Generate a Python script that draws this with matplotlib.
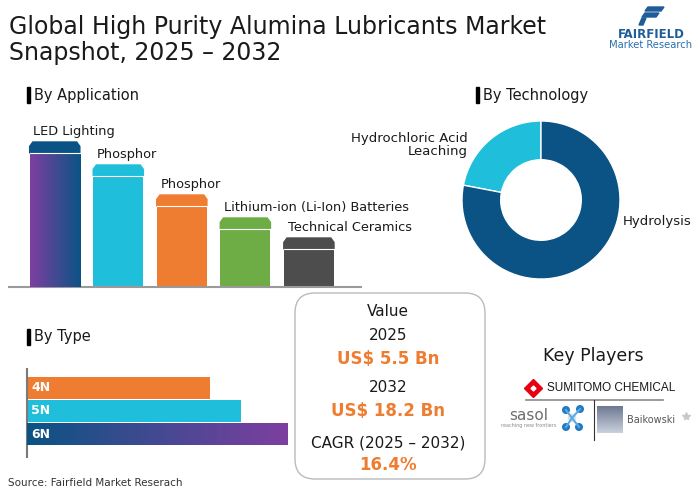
import matplotlib.pyplot as plt
import numpy as np
from matplotlib.patches import Polygon, Rectangle, FancyBboxPatch, Circle
from matplotlib.colors import LinearSegmentedColormap

W, H = 700, 491

# --- data ---
app_labels = ["LED Lighting", "Phosphor", "Phosphor",
              "Lithium-ion (Li-Ion) Batteries", "Technical Ceramics"]
app_values = [145, 122, 92, 69, 49]
app_colors = ["#0B5384", "#1FBEDA", "#EE7D31", "#6EAD45", "#4D4D4D"]

tech_labels = ["Hydrochloric Acid\nLeaching", "Hydrolysis"]
tech_values = [22, 78]
tech_colors = ["#1FBEDA", "#0B5384"]

type_labels = ["4N", "5N", "6N"]
type_values = [183, 214, 261]
type_colors = ["#EE7D31", "#1FBEDA", "#0B5384"]

value_text = ["Value", "2025", "US$ 5.5 Bn", "2032", "US$ 18.2 Bn",
              "CAGR (2025 – 2032)", "16.4%"]

BLACK = "#1A1A1A"
ORANGE = "#EE7D31"
PURPLE = "#7D3FA0"
DBLUE = "#0B5384"

fig = plt.figure(figsize=(W / 100, H / 100), dpi=100)


def px_axes(x0, y0, x1, y1):
    ax = fig.add_axes([x0 / W, 1 - y1 / H, (x1 - x0) / W, (y1 - y0) / H])
    ax.set_facecolor("none")
    return ax


# background canvas in pixel coords
bg = px_axes(0, 0, W, H)
bg.set_xlim(0, W)
bg.set_ylim(H, 0)
bg.axis("off")

# title
bg.text(9, 27, "Global High Purity Alumina Lubricants Market", fontsize=17,
        color=BLACK, va="center", ha="left")
bg.text(9, 53, "Snapshot, 2025 – 2032", fontsize=17, color=BLACK,
        va="center", ha="left")

# fairfield logo
for pts in ([(648, 7), (664, 7), (661, 11), (645, 11)],
            [(645, 13), (659, 13), (656, 17), (642, 17)],
            [(642, 18), (646, 18), (643, 25), (639, 25)]):
    bg.add_patch(Polygon(pts, closed=True, color="#1F5C99"))
bg.text(651, 34, "FAIRFIELD", fontsize=8.5, fontweight="bold", color="#1F5C99",
        ha="center", va="center")
bg.text(651, 45, "Market Research", fontsize=7.2, color="#2A6FB0",
        ha="center", va="center")


def header(x, y, txt):
    bg.add_patch(Rectangle((x, y - 8), 3, 16, color="black"))
    bg.text(x + 7, y, txt, fontsize=10.5, color=BLACK, va="center", ha="left")


header(27, 95, "By Application")
header(476, 95, "By Technology")
header(27, 337, "By Type")

# --- By Application bars ---
ax1 = px_axes(9, 87, 361, 287)
ax1.axis("off")
bw = 0.79
cap = 11
grad_cmap = LinearSegmentedColormap.from_list("g", [PURPLE, DBLUE])
xs = np.arange(len(app_values))
bars = ax1.bar(xs, [v - cap for v in app_values], width=bw, color=app_colors,
               zorder=2)
for i, (v, c, lab) in enumerate(zip(app_values, app_colors, app_labels)):
    x0, x1 = i - bw / 2, i + bw / 2
    body = v - cap
    if i == 0:
        im = ax1.imshow(np.linspace(0, 1, 100).reshape(1, -1), cmap=grad_cmap,
                        extent=(x0, x1, 0, body), aspect="auto", zorder=3)
        im.set_clip_path(bars[i])
    ax1.add_patch(Polygon([(x0, body), (x0, body + cap * 0.6),
                           (x0 + 0.05, v), (x1 - 0.05, v),
                           (x1, body + cap * 0.6), (x1, body)],
                          closed=True, color=c, zorder=3))
    ax1.plot([x0, x1], [body, body], color="white", lw=0.8, zorder=4)
    ax1.text(x0 + 0.06, v + 10, lab, fontsize=9.3, color=BLACK,
             ha="left", va="center")
ax1.axhline(0, color="#9A9A9A", lw=1.5, clip_on=False)
ax1.set_xlim(-0.72, 4.82)
ax1.set_ylim(0, 200)

# --- By Technology donut ---
ax2 = px_axes(441, 100, 641, 300)
ax2.pie(tech_values, colors=tech_colors, startangle=90, radius=1,
        wedgeprops=dict(width=0.49, edgecolor="white", linewidth=1))
ax2.set_xlim(-100 / 79, 100 / 79)
ax2.set_ylim(-100 / 79, 100 / 79)
bg.text(468, 145, tech_labels[0], fontsize=9.5, color=BLACK, ha="right",
        va="center", linespacing=0.95)
bg.text(623, 222, tech_labels[1], fontsize=9.5, color=BLACK, ha="left",
        va="center")

# --- By Type bars ---
ax3 = px_axes(27, 369, 300, 457)
hb = ax3.barh(np.arange(3), type_values, height=0.95, color=type_colors,
              zorder=2)
grad2 = LinearSegmentedColormap.from_list("g2", [DBLUE, PURPLE])
im2 = ax3.imshow(np.linspace(0, 1, 100).reshape(1, -1), cmap=grad2,
                 extent=(0, type_values[2], 2 + 0.475, 2 - 0.475),
                 aspect="auto", zorder=3)
im2.set_clip_path(hb[2])
for i, lab in enumerate(type_labels):
    ax3.text(4, i, lab, color="white", fontsize=9, fontweight="bold",
             va="center", ha="left", zorder=5)
ax3.set_xlim(0, 273)
ax3.set_ylim(1 + 46 / 23.25, 1 - 42 / 23.25)
for s in ["top", "right", "bottom"]:
    ax3.spines[s].set_visible(False)
ax3.spines["left"].set_color("#7A7A7A")
ax3.spines["left"].set_linewidth(1.5)
ax3.set_xticks([])
ax3.set_yticks([])

bg.text(8, 483, "Source: Fairfield Market Reserach", fontsize=7.5,
        color="#333333", va="center", ha="left")

# --- value box ---
bg.add_patch(FancyBboxPatch((295, 293), 190, 186,
                            boxstyle="round,pad=0,rounding_size=20",
                            fc="white", ec="#BBBBBB", lw=1))
ys = [312, 336, 359, 387, 411, 443, 465]
for t, y in zip(value_text, ys):
    if t.startswith("US$") or t.endswith("%"):
        bg.text(388, y, t, fontsize=12, fontweight="bold", color=ORANGE,
                ha="center", va="center")
    else:
        bg.text(388, y, t, fontsize=11, color=BLACK, ha="center", va="center")

# --- key players ---
bg.text(593, 356, "Key Players", fontsize=12.5, color=BLACK, ha="center",
        va="center")
bg.plot([533], [388], marker="D", ms=9, color="#E60012")
bg.plot([533], [388], marker="D", ms=2.5, color="white")
bg.text(547, 388, "SUMITOMO CHEMICAL", fontsize=8.5, family="Liberation Sans",
        color=BLACK, ha="left", va="center")
bg.plot([526, 663], [400, 400], color="#8A8A8A", lw=1.2)
bg.plot([594, 594], [400, 440], color="#333333", lw=0.8)
bg.text(529, 416, "sasol", fontsize=11, color="#6D6E71", ha="center",
        va="center")
bg.text(529, 425, "reaching new frontiers", fontsize=3.5, color="#888888",
        ha="center", va="center")
mol = [(566, 410), (580, 409), (566, 427), (579, 427), (572, 418)]
for p in mol[:4]:
    bg.plot([mol[4][0], p[0]], [mol[4][1], p[1]], color="#5FA8E0", lw=1.5)
for p in mol[:4]:
    bg.add_patch(Circle(p, 3.3, color="#1E7BC4"))
bg.add_patch(Circle(mol[4], 3.5, color="#CFE6F7"))
bg.imshow(np.linspace(0, 1, 27).reshape(-1, 1) * np.ones((1, 26)),
          cmap=LinearSegmentedColormap.from_list("b", ["#6F7A92", "#C9CFDC"]),
          extent=(597, 623, 433, 406), aspect="auto")
bg.text(627, 420, "Baikowski", fontsize=7, color="#555555", ha="left",
        va="center")
bg.plot([686], [416], marker="*", ms=6, color="#C8C8C8")
bg.set_xlim(0, W)
bg.set_ylim(H, 0)

fig.savefig("out.png", dpi=100)
